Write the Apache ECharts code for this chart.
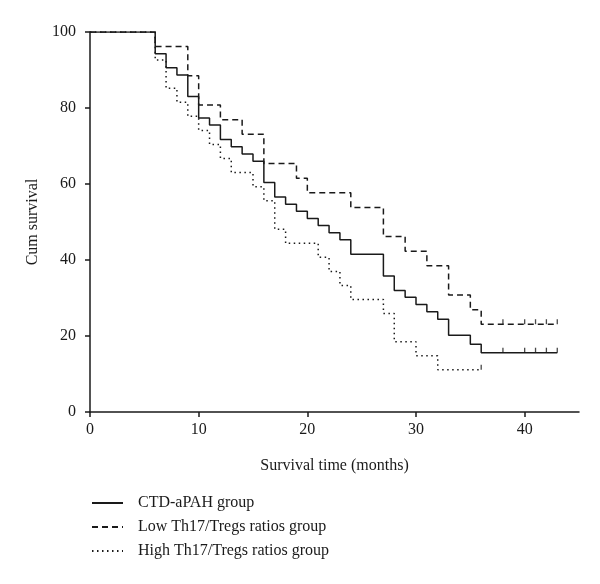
<!DOCTYPE html>
<html>
<head>
<meta charset="utf-8">
<script src="https://cdn.jsdelivr.net/npm/echarts@6/dist/echarts.min.js"></script>
<style>
html,body{margin:0;padding:0;background:#fff;}
#chart{width:600px;height:584px;}
</style>
</head>
<body>
<div id="chart"></div>
<script>
// Data
const seriesNames = ['CTD-aPAH group', 'Low Th17/Tregs ratios group', 'High Th17/Tregs ratios group'];

const ctdMonths = [0,6,7,8,9,10,11,12,13,14,15,16,17,18,19,20,21,22,23,24,27,28,29,30,31,32,33,35,36,43];
const ctdSurv   = [100,94.3,90.6,88.7,83.0,77.4,75.5,71.7,69.8,67.9,66.0,60.4,56.6,54.7,52.8,50.9,49.1,47.2,45.3,41.5,35.8,32.0,30.2,28.3,26.4,24.4,20.2,17.8,15.6,15.6];
const ctdCensor = [38,40,41,42,43];

const lowMonths = [0,6,9,10,12,14,16,19,20,24,27,29,31,33,35,36,43];
const lowSurv   = [100,96.2,88.5,80.8,76.9,73.1,65.4,61.5,57.7,53.8,46.2,42.3,38.5,30.8,26.9,23.1,23.1];
const lowCensor = [38,40,41,42,43];

const highMonths = [0,6,7,8,9,10,11,12,13,15,16,17,18,21,22,23,24,27,28,30,32,36];
const highSurv   = [100,92.6,85.2,81.5,77.8,74.1,70.4,66.7,63.0,59.3,55.6,48.1,44.4,40.7,37.0,33.3,29.6,25.9,18.5,14.8,11.1,11.1];
const highCensor = [36];

const xTicks = [0,10,20,30,40];
const yTicks = [0,20,40,60,80,100];

const pair = (xs, ys) => xs.map((x, i) => [x, ys[i]]);
const censorPts = (times, xs, ys) => times.map(t => [t, ys[ys.length - 1]]);

const FONT = '"Liberation Serif", "DejaVu Serif", serif';
const INK = '#1a1a1a';

const chart = echarts.init(document.getElementById('chart'), null, {renderer: 'canvas'});

function stepSeries(name, data, type) {
  return {
    name: name, type: 'line', step: 'end', data: data,
    symbol: 'none', animation: false,
    lineStyle: {color: INK, width: 1.5, type: type},
    itemStyle: {color: INK}
  };
}
function censorSeries(data) {
  return {
    type: 'scatter', data: data, symbol: 'rect', symbolSize: [1.3, 5],
    symbolOffset: [0, -2.5], itemStyle: {color: INK}, animation: false,
    silent: true, z: 5
  };
}

chart.setOption({
  backgroundColor: '#ffffff',
  animation: false,
  grid: {left: 90, right: 21, top: 32, bottom: 172, containLabel: false},
  legend: {
    orient: 'vertical', left: 86, top: 490, itemWidth: 31, itemHeight: 12, itemGap: 8,
    data: seriesNames,
    itemStyle: {opacity: 0},
    textStyle: {fontFamily: FONT, fontSize: 16, color: INK, padding: [0, 0, 0, 10]}
  },
  xAxis: {
    type: 'value', min: 0, max: 45, interval: 10,
    name: 'Survival time (months)', nameLocation: 'middle', nameGap: 46,
    nameTextStyle: {fontFamily: FONT, fontSize: 16, color: INK},
    axisLine: {show: true, lineStyle: {color: INK, width: 1.5}},
    axisTick: {show: true, length: 5, customValues: xTicks, lineStyle: {color: INK, width: 1.5}},
    axisLabel: {customValues: xTicks, fontFamily: FONT, fontSize: 16, color: INK, margin: 10},
    splitLine: {show: false}
  },
  yAxis: {
    type: 'value', min: 0, max: 100, interval: 20,
    name: 'Cum survival', nameLocation: 'middle', nameGap: 49,
    nameTextStyle: {fontFamily: FONT, fontSize: 16, color: INK},
    axisLine: {show: true, lineStyle: {color: INK, width: 1.5}},
    axisTick: {show: true, length: 5, customValues: yTicks, lineStyle: {color: INK, width: 1.5}},
    axisLabel: {customValues: yTicks, fontFamily: FONT, fontSize: 16, color: INK, margin: 14},
    splitLine: {show: false}
  },
  series: [
    stepSeries(seriesNames[0], pair(ctdMonths, ctdSurv), 'solid'),
    stepSeries(seriesNames[1], pair(lowMonths, lowSurv), [6, 4]),
    stepSeries(seriesNames[2], pair(highMonths, highSurv), [1.5, 3.5]),
    censorSeries(censorPts(ctdCensor, ctdMonths, ctdSurv)),
    censorSeries(censorPts(lowCensor, lowMonths, lowSurv)),
    censorSeries(censorPts(highCensor, highMonths, highSurv))
  ]
});
</script>
</body>
</html>
